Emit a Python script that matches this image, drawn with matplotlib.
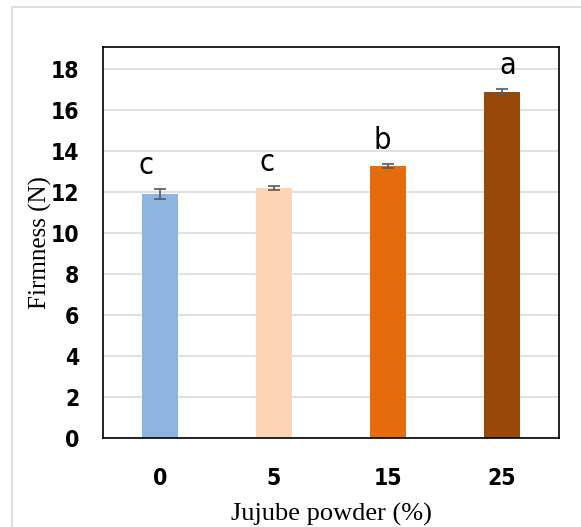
import matplotlib
matplotlib.use("Agg")
import matplotlib.pyplot as plt
from matplotlib.patches import Rectangle

# firmness of the samples vs. jujube powder level
levels = ["0", "5", "15", "25"]
firmness = [11.9, 12.2, 13.25, 16.88]
firmness_sd = [0.25, 0.1, 0.1, 0.15]
groups = ["c", "c", "b", "a"]

bar_colors = ["#8EB4E3", "#FBD5B5", "#E46C0A", "#984807"]
letter_dx = [-10, -5, -4, 4]   # small nudges of the group letters, points

sans = ["DejaVu Sans"]
serif = ["Liberation Serif", "DejaVu Serif"]

W, H = 581, 527
fig = plt.figure(figsize=(W / 100, H / 100), dpi=100)

# light frame round the whole chart
fig.patches.append(Rectangle((12 / W, -0.1), 1.2, 1 - 6.5 / H + 0.1,
                             transform=fig.transFigure, fill=False,
                             edgecolor="#D9D9D9", linewidth=1.2))

ax = fig.add_axes([103 / W, (H - 438) / H, 456 / W, 391 / H])
x = range(len(levels))
ax.bar(x, firmness, width=0.32, color=bar_colors, zorder=2)
ax.errorbar(x, firmness, yerr=firmness_sd, fmt="none", ecolor="#595959",
            elinewidth=1.2, capsize=4.5, capthick=1.2, zorder=3)

for i, (v, e, g) in enumerate(zip(firmness, firmness_sd, groups)):
    ax.annotate(g, (i, v + e), xytext=(letter_dx[i], 11), textcoords="offset points",
                ha="center", va="baseline", fontsize=22, family=sans,
                fontstretch="condensed")

ax.set_xlim(-0.5, len(levels) - 0.5)
ax.set_ylim(0, 19.07)
ax.set_yticks(range(0, 19, 2))
ax.set_xticks(list(x))
ax.set_xticklabels(levels)
ax.grid(axis="y", color="#D9D9D9", linewidth=1.1, zorder=0)
ax.tick_params(length=0)
ax.tick_params(axis="y", pad=17)
ax.tick_params(axis="x", pad=21)
for lab in ax.get_xticklabels() + ax.get_yticklabels():
    lab.set_fontsize(16.5)
    lab.set_fontweight("bold")
    lab.set_family(sans)
    lab.set_fontstretch("condensed")
for s in ax.spines.values():
    s.set_linewidth(1.2)
    s.set_color("black")

ax.set_xlabel("Jujube powder (%)", fontsize=19, family=serif, labelpad=9)
fig.text(40 / W, 1 - 243 / H, "Firmness (N)", rotation=90, ha="center", va="center",
         fontsize=18, family=serif)

fig.savefig("out.png", dpi=100)
